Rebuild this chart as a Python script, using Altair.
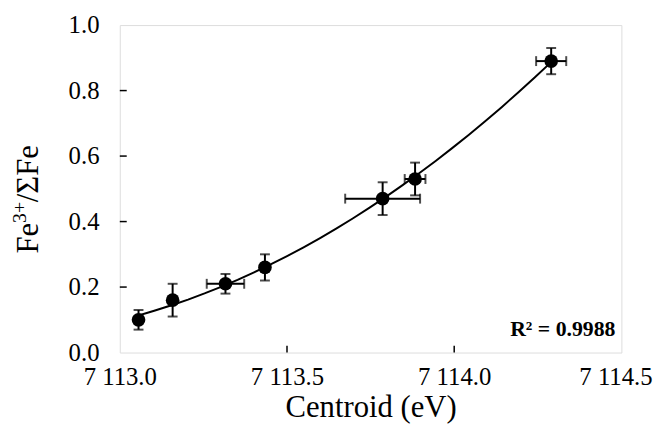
import altair as alt
import pandas as pd

centroid = [7113.056, 7113.158, 7113.316, 7113.434, 7113.786, 7113.883, 7114.29]
fe_ratio = [0.10, 0.16, 0.21, 0.26, 0.47, 0.53, 0.89]
x_err = [0.0, 0.0, 0.056, 0.01, 0.112, 0.031, 0.045]
y_err = [0.03, 0.05, 0.03, 0.04, 0.05, 0.05, 0.04]
x_ticks = [7113.0, 7113.5, 7114.0, 7114.5]
y_ticks = [0.0, 0.2, 0.4, 0.6, 0.8, 1.0]
r2_label = "R² = 0.9988"
y_title_parts = ["Fe", "3+", "/ΣFe"]

df = pd.DataFrame({"x": centroid, "y": fe_ratio, "xe": x_err, "ye": y_err})
df["xlo"] = df.x - df.xe
df["xhi"] = df.x + df.xe
df["ylo"] = df.y - df.ye
df["yhi"] = df.y + df.ye

FONT = "Liberation Serif"

xs = alt.Scale(domain=[7113.0, 7114.5], nice=False, zero=False)
ys = alt.Scale(domain=[0, 1.0], nice=False)

common = dict(ticks=False, domain=False, grid=False, labelFlush=False, labelOverlap=False,
              labelFont=FONT, labelFontSize=25, labelColor="black",
              titleFont=FONT, titleFontSize=31, titleFontWeight="normal", titleColor="black")
xaxis = alt.Axis(values=x_ticks, title="Centroid (eV)",
                 labelExpr="replace(format(datum.value, ',.1f'), ',', ' ')",
                 labelOffset={"condition": {"test": "datum.value > 7114.4", "value": -6}, "value": 0},
                 labelPadding=12, titlePadding=4, **common)
yaxis = alt.Axis(values=y_ticks, title=None, format=".1f", labelPadding=21, **common)

X = lambda f: alt.X(f, scale=xs, axis=xaxis)
Y = lambda f: alt.Y(f, scale=ys, axis=yaxis)

base = alt.Chart(df)
LW = 2

yerr = base.mark_rule(color="black", strokeWidth=LW).encode(x=X("x:Q"), y=Y("ylo:Q"), y2="yhi:Q")
ycap_lo = base.mark_tick(color="black", orient="horizontal", size=10, thickness=LW).encode(x=X("x:Q"), y=Y("ylo:Q"))
ycap_hi = base.mark_tick(color="black", orient="horizontal", size=10, thickness=LW).encode(x=X("x:Q"), y=Y("yhi:Q"))

xb = base.transform_filter("datum.xe > 0")
xerr = xb.mark_rule(color="black", strokeWidth=LW).encode(x=X("xlo:Q"), x2="xhi:Q", y=Y("y:Q"))
xcap_lo = xb.mark_tick(color="black", orient="vertical", size=10, thickness=LW).encode(x=X("xlo:Q"), y=Y("y:Q"))
xcap_hi = xb.mark_tick(color="black", orient="vertical", size=10, thickness=LW).encode(x=X("xhi:Q"), y=Y("y:Q"))

fit = base.transform_regression("x", "y", method="poly", order=2).mark_line(
    color="black", strokeWidth=2).encode(x=X("x:Q"), y=Y("y:Q"))

pts = base.mark_circle(size=190, color="black", opacity=1).encode(x=X("x:Q"), y=Y("y:Q"))

xt = alt.Chart(pd.DataFrame({"v": x_ticks[1:-1]})).mark_rule(color="black", strokeWidth=1.5).encode(
    x=X("v:Q"), y=alt.value(331), y2=alt.value(324))
yt = alt.Chart(pd.DataFrame({"v": y_ticks[1:-1]})).mark_rule(color="black", strokeWidth=1.5).encode(
    y=Y("v:Q"), x=alt.value(0), x2=alt.value(7))

r2 = alt.Chart(pd.DataFrame({"t": [r2_label]})).mark_text(
    font=FONT, fontSize=22, fontWeight="bold", align="right", baseline="alphabetic", color="black"
).encode(text="t:N", x=alt.value(501), y=alt.value(314))

# y-axis title with a real superscript (three rotated text pieces)
def ttl(text, size, xpos, ypos):
    return alt.Chart(pd.DataFrame({"t": [text]})).mark_text(
        font=FONT, fontSize=size, angle=270, align="left", baseline="alphabetic", color="black"
    ).encode(text="t:N", x=alt.value(xpos), y=alt.value(ypos))

t1 = ttl(y_title_parts[0], 31, -83, 231)
t2 = ttl(y_title_parts[1], 20, -95, 200)
t3 = ttl(y_title_parts[2], 31, -83, 179)

chart = alt.layer(yerr, ycap_lo, ycap_hi, xerr, xcap_lo, xcap_hi, fit, pts, xt, yt, r2,
                  t1, t2, t3).properties(
    width=507, height=331,
    autosize=alt.AutoSizeParams(type="none"),
    padding={"left": 113, "top": 15, "right": 38, "bottom": 75},
).configure_view(stroke="black", strokeWidth=2).configure(background="white", font=FONT).configure_axis(
    labelFont=FONT, titleFont=FONT
)

chart.save("out.html", embed_options={"renderer": "svg", "actions": False})
